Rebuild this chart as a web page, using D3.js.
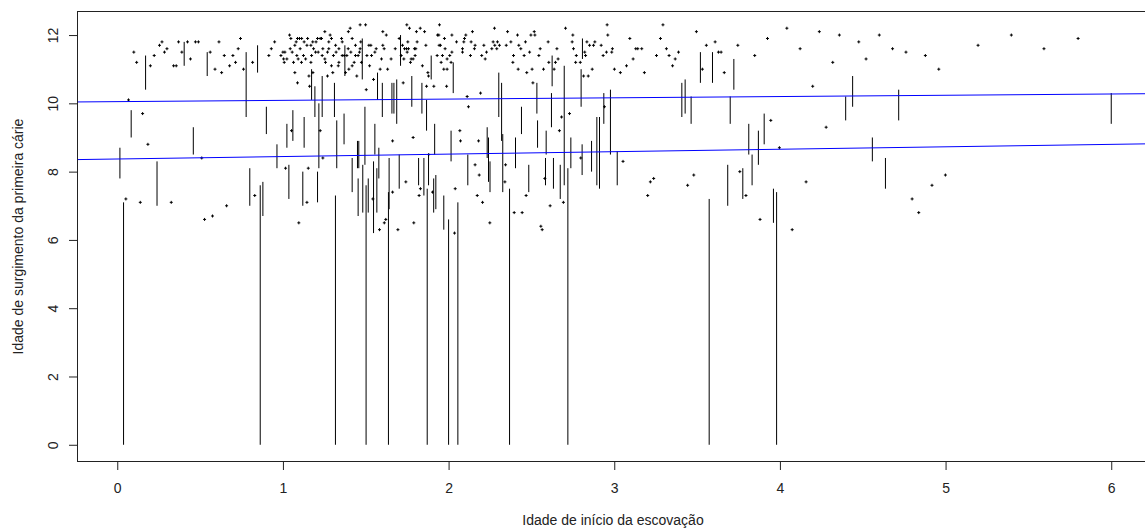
<!DOCTYPE html>
<meta charset="utf-8">
<style>

body { margin: 0; background: #fff; }

.axis text {
  font: 14px "Liberation Sans", Arial, sans-serif;
  fill: #222;
}

.axis line {
  stroke: #222;
}

.title {
  font: 14px "Liberation Sans", Arial, sans-serif;
  fill: #222;
}

</style>
<svg width="1145" height="530"></svg>
<script src="https://d3js.org/d3.v7.min.js"></script>
<script>

// observed points: [idade inicio escovacao, idade primeira carie]
var points = [
  [0.10,11.5],[0.117,11.2],[0.27,11.8],[0.255,11.7],[0.30,11.6],[0.285,11.5],[0.223,11.4],[0.20,11.1],
  [0.37,11.8],[0.39,11.5],[0.424,11.8],[0.472,11.8],[0.49,11.8],[0.442,11.3],[0.34,11.1],[0.356,11.1],
  [0.561,11.5],[0.614,11.8],[0.744,11.9],[0.73,11.6],[0.646,11.4],[0.698,11.4],[0.714,11.2],[0.678,11.1],
  [0.59,11.0],[0.63,10.9],[0.762,11.0],[0.817,11.2],[0.95,11.8],[0.93,11.6],[0.915,11.4],
  [0.068,10.1],[0.153,9.7],[0.185,8.8],[0.51,8.4],[0.052,7.2],[0.139,7.1],[0.326,7.1],[0.66,7.0],
  [0.527,6.6],[0.575,6.7],[0.83,7.3],
  [1.466,12.3],[1.499,12.3],[1.406,12.2],[1.395,12.1],[1.253,12.1],[1.603,12.1],
  [1.624,12.0],[1.04,12.0],[1.285,12.0],
  [1.048,11.9],[1.088,11.9],[1.1,11.9],[1.113,11.9],[1.149,11.9],[1.209,11.9],[1.225,11.9],[1.233,11.9],
  [1.293,11.9],[1.354,11.9],[1.418,11.9],
  [1.08,11.8],[1.128,11.8],[1.18,11.8],[1.2,11.8],[1.277,11.8],[1.358,11.8],[1.47,11.8],
  [1.072,11.7],[1.145,11.7],[1.169,11.7],[1.318,11.7],[1.438,11.7],[1.519,11.7],[1.531,11.7],[1.603,11.7],
  [1.044,11.6],[1.104,11.6],[1.185,11.6],[1.241,11.6],[1.277,11.6],[1.338,11.6],[1.394,11.6],[1.466,11.6],
  [1.563,11.6],[1.611,11.6],
  [1.0,11.5],[1.012,11.5],[1.056,11.5],[1.197,11.5],[1.213,11.5],[1.269,11.5],[1.321,11.5],[1.41,11.5],
  [1.462,11.5],[1.555,11.5],
  [0.988,11.4],[1.084,11.4],[1.124,11.4],[1.173,11.4],[1.237,11.4],[1.305,11.4],[1.358,11.4],[1.37,11.4],
  [1.386,11.4],[1.438,11.4],[1.454,11.4],[1.507,11.4],[1.535,11.4],
  [1.004,11.3],[1.024,11.3],[1.092,11.3],[1.137,11.3],[1.253,11.3],[1.595,11.3],
  [1.008,11.2],[1.064,11.2],[1.112,11.2],[1.169,11.2],[1.257,11.2],[1.338,11.2],[1.43,11.2],[1.474,11.2],
  [1.293,11.1],[1.334,11.1],[1.418,11.1],[1.523,11.1],
  [1.398,11.0],[1.587,11.0],[1.632,11.0],
  [1.072,10.9],[1.181,10.9],[1.301,10.9],[1.378,10.9],
  [1.157,10.8],[1.269,10.8],[1.446,10.8],[1.547,10.7],[1.088,10.6],[1.161,10.5],[1.503,10.4],
  [1.052,9.2],[1.225,9.2],[1.241,8.4],[1.016,8.1],[1.153,8.1],[1.145,7.1],[1.543,7.2],[1.096,6.5],
  [1.612,6.5],[1.583,6.3],
  [1.748,12.3],[1.945,12.3],[1.764,12.2],[1.829,12.2],[2.277,12.2],[1.806,12.1],[1.855,12.1],[2.144,12.1],
  [1.933,12.0],[1.941,12.0],[2.02,12.0],[2.104,12.0],
  [1.702,11.9],[1.975,11.9],[2.096,11.9],
  [1.754,11.8],[1.81,11.8],[2.048,11.8],[2.092,11.8],[2.136,11.8],[2.269,11.8],
  [1.722,11.7],[1.863,11.7],[1.943,11.7],[1.951,11.7],[2.16,11.7],[2.213,11.7],
  [1.678,11.6],[1.734,11.6],[1.746,11.6],[1.758,11.6],[1.794,11.6],[1.802,11.6],[1.979,11.6],[2.084,11.6],
  [2.156,11.6],[2.261,11.6],
  [1.75,11.5],[2.02,11.5],[2.084,11.5],[2.229,11.5],
  [1.714,11.4],[1.798,11.4],[1.931,11.4],[1.963,11.4],[2.007,11.4],[2.132,11.4],[2.2,11.4],
  [1.653,11.3],[1.73,11.3],[1.774,11.3],[1.786,11.3],[1.991,11.3],[2.221,11.3],
  [1.77,11.2],[1.955,11.2],[2.015,11.2],[1.842,11.1],[1.971,11.0],[1.991,11.0],
  [1.875,10.9],[1.879,10.8],[1.726,10.6],[1.867,10.5],[1.911,10.5],[1.988,10.5],
  [2.193,10.3],[2.112,10.2],[2.12,9.9],
  [1.662,8.9],[1.786,9.0],[2.068,9.2],[2.072,8.9],[2.181,8.9],[2.16,8.2],[2.185,7.9],[1.742,7.7],
  [1.662,7.4],[1.83,7.5],[1.822,7.3],[1.903,7.4],[2.04,7.5],[2.173,7.3],[2.205,7.1],[1.621,6.6],
  [1.79,6.5],[1.694,6.3],[2.036,6.2],[2.249,6.5],[1.88,8.5],
  [2.356,12.1],[2.517,12.1],[2.521,12.0],[2.75,12.0],[2.416,12.0],[2.497,12.0],[2.706,12.2],
  [2.295,11.8],[2.376,11.8],[2.464,11.8],[2.601,11.8],[2.746,11.8],[2.835,11.8],[2.883,11.8],
  [2.279,11.7],[2.307,11.7],[2.348,11.7],[2.424,11.7],[2.851,11.7],[2.875,11.7],
  [2.291,11.6],[2.436,11.6],[2.553,11.6],[2.654,11.6],[2.754,11.6],
  [2.489,11.5],[2.822,11.5],
  [2.392,11.4],[2.456,11.4],[2.545,11.4],[2.771,11.4],[2.827,11.4],
  [2.661,11.3],
  [2.388,11.2],[2.605,11.2],[2.645,11.2],[2.767,11.2],[2.795,11.2],
  [2.42,11.0],[2.504,11.0],[2.573,11.0],[2.637,11.0],[2.867,11.0],
  [2.472,10.9],[2.815,10.8],[2.843,10.8],[2.509,10.6],
  [2.682,9.6],[2.73,9.7],[2.669,9.2],[2.798,8.4],[2.344,8.2],[2.34,7.7],[2.581,7.8],[2.468,7.3],
  [2.693,7.1],[2.613,7.0],[2.396,6.8],[2.444,6.8],[2.557,6.4],[2.565,6.3],
  [2.957,12.3],[3.294,12.3],[3.496,12.1],[2.961,12.0],[3.094,11.9],[3.279,11.9],[3.609,11.8],
  [2.921,11.7],[3.556,11.7],[3.746,11.7],
  [2.989,11.6],[3.13,11.6],[3.142,11.6],[3.166,11.6],[3.315,11.6],
  [2.953,11.5],[2.985,11.5],[3.388,11.5],[3.629,11.5],[3.645,11.5],
  [2.933,11.4],[3.255,11.4],[3.331,11.4],[3.114,11.3],[3.368,11.3],[3.074,11.1],[3.352,11.1],
  [3.001,11.0],[3.532,11.0],[3.037,10.9],[3.182,10.9],[3.664,10.9],
  [2.941,9.9],[3.053,8.3],[3.758,8.0],[3.48,7.9],[3.238,7.8],[3.218,7.7],[3.443,7.6],[3.202,7.3],
  [3.848,11.4],[3.795,7.3],
  [4.042,12.2],[3.925,11.9],[4.238,12.1],[4.359,12.0],[4.6,12.0],[4.476,11.8],[4.122,11.6],[4.68,11.6],
  [4.761,11.5],[4.878,11.4],[4.319,11.2],[4.52,11.3],[4.959,11.0],[5.196,11.7],[5.397,12.0],[5.594,11.6],
  [5.8,11.9],[4.198,10.5],[3.945,9.5],[4.279,9.3],[3.997,8.7],[4.158,7.7],[4.999,7.9],[4.918,7.6],
  [4.798,7.2],[4.838,6.8],[4.074,6.3],[3.88,6.6]
];

// interval censored: [idade inicio escovacao, limite inferior, limite superior]
var intervals = [
  [0.171,10.4,11.4],[0.404,11.1,11.8],[0.543,10.8,11.5],[0.778,9.6,11.5],[0.847,10.9,11.7],[0.084,9.0,9.8],
  [0.459,8.5,9.3],[0.016,7.8,8.7],[0.24,7.0,8.3],[0.90,9.1,9.9],[0.964,8.1,8.8],[0.80,7.0,8.1],
  [0.863,0,7.6],[0.879,6.7,7.7],[0.038,0,7.1],
  [1.173,10.1,11.0],[1.193,9.6,10.5],[1.237,9.6,10.8],[1.217,8.1,10.0],[1.311,9.6,10.6],[1.374,10.8,11.7],
  [1.479,10.7,11.9],[1.571,10.1,10.9],[1.6,9.6,10.6],[1.024,8.7,9.4],[1.06,8.9,9.8],[1.128,8.7,9.6],
  [1.325,8.1,9.5],[1.369,8.8,9.7],[1.495,8.2,9.9],[1.458,8.1,8.9],[1.45,8.1,8.9],[1.555,8.5,9.4],
  [1.579,7.8,8.7],[1.036,7.2,8.2],[1.12,7.0,8.0],[1.209,7.1,8.0],[1.418,7.4,8.4],[1.454,6.7,7.8],
  [1.482,6.8,8.2],[1.515,6.8,7.8],[1.547,6.2,8.3],[1.567,6.8,8.1],[1.317,0,7.3],[1.502,0,7.6],
  [1.71,11.1,12.0],[1.895,10.7,11.4],[2.028,10.3,11.2],[1.658,9.7,10.6],[1.67,9.7,10.6],[1.687,9.4,10.7],
  [1.778,9.9,10.8],[1.839,9.7,10.6],[1.867,9.2,10.1],[1.916,8.5,9.4],[2.015,8.3,9.2],[2.233,8.4,9.3],
  [2.241,7.7,9.0],[1.641,6.9,8.4],[1.702,7.5,8.5],[1.819,7.6,8.4],[1.851,7.3,8.4],[1.879,7.6,8.5],
  [1.91,6.8,7.8],[1.923,6.9,7.9],[1.971,6.3,7.3],[2.056,0,7.1],[2.0,0,6.6],[1.871,0,7.5],[1.637,0,7.4],
  [2.116,7.6,8.5],[2.25,7.4,8.3],
  [2.625,10.5,11.4],[2.698,7.6,11.1],[2.8,9.9,11.0],[2.808,11.3,11.9],[2.303,9.6,10.9],[2.32,8.9,10.6],
  [2.533,9.7,10.6],[2.44,9.1,9.9],[2.537,8.7,9.5],[2.621,9.3,10.3],[2.327,7.4,9.1],[2.404,8.1,9.0],
  [2.589,8.5,9.2],[2.738,8.1,9.0],[2.806,7.9,8.8],[2.863,8.0,8.9],[2.895,7.6,9.6],[2.911,7.5,9.6],
  [2.484,7.4,8.2],[2.585,7.6,8.4],[2.633,7.5,8.4],[2.674,7.2,8.2],[2.368,0,7.5],[2.72,0,8.1],
  [3.52,10.6,11.5],[3.593,10.6,11.5],[3.722,10.4,11.3],[3.408,9.6,10.6],[3.428,9.7,10.7],[3.464,9.4,10.2],
  [3.7,9.4,10.2],[2.937,9.4,10.3],[2.977,8.5,10.4],[3.018,7.6,8.6],[3.685,7.0,8.2],[3.776,7.2,8.1],
  [3.573,0,7.2],
  [3.87,8.2,9.2],[3.832,7.6,8.5],[3.812,8.5,9.4],
  [4.439,9.9,10.8],[4.397,9.5,10.2],[4.717,9.5,10.4],[6.0,9.4,10.3],[3.905,8.8,9.7],[4.558,8.3,9.0],
  [4.637,7.5,8.4],[3.961,6.5,7.5],[3.98,0,7.4]
];

// fitted lines (abline): intercept, slope
var fitIntercepts = [10.05, 8.37];
var fitSlopes = [0.0373, 0.0714];

var xTicks = [0, 1, 2, 3, 4, 5, 6];
var yTicks = [0, 2, 4, 6, 8, 10, 12];

var svg = d3.select("svg");

var x = d3.scaleLinear().domain([-0.24, 6.24]).range([77.5, 1151]);
var y = d3.scaleLinear().domain([-0.49, 12.69]).range([461.5, 11.5]);

svg.append("defs").append("clipPath")
    .attr("id", "plotclip")
  .append("rect")
    .attr("x", x.range()[0])
    .attr("y", y.range()[1])
    .attr("width", x.range()[1] - x.range()[0])
    .attr("height", y.range()[0] - y.range()[1]);

var plot = svg.append("g").attr("clip-path", "url(#plotclip)");

// interval segments
plot.append("g")
  .selectAll("line")
  .data(intervals)
  .enter().append("line")
    .attr("x1", function(d) { return x(d[0]); })
    .attr("x2", function(d) { return x(d[0]); })
    .attr("y1", function(d) { return y(d[1]); })
    .attr("y2", function(d) { return y(d[2]); })
    .attr("stroke", "#000")
    .attr("stroke-width", 1);

// points drawn as small plus signs
plot.append("g")
  .selectAll("path")
  .data(points)
  .enter().append("path")
    .attr("transform", function(d) { return "translate(" + x(d[0]) + "," + y(d[1]) + ")"; })
    .attr("d", "M-1.5,0H1.5M0,-1.5V1.5")
    .attr("stroke", "#000")
    .attr("stroke-width", 1);

// fitted lines
var xd = x.domain();
plot.append("g")
  .selectAll("line")
  .data(fitIntercepts)
  .enter().append("line")
    .attr("x1", x(xd[0]))
    .attr("x2", x(xd[1]))
    .attr("y1", function(d, i) { return y(d + fitSlopes[i] * xd[0]); })
    .attr("y2", function(d, i) { return y(d + fitSlopes[i] * xd[1]); })
    .attr("stroke", "#0000ff")
    .attr("stroke-width", 1);

// box
svg.append("rect")
    .attr("x", x.range()[0])
    .attr("y", y.range()[1])
    .attr("width", x.range()[1] - x.range()[0])
    .attr("height", y.range()[0] - y.range()[1])
    .attr("fill", "none")
    .attr("stroke", "#222")
    .attr("stroke-width", 1);

// x axis
var xAxis = svg.append("g")
    .attr("class", "axis")
    .attr("transform", "translate(0," + y.range()[0] + ")")
    .call(d3.axisBottom(x).tickValues(xTicks).tickSize(8.5).tickFormat(d3.format("d")));
xAxis.select(".domain").remove();
xAxis.selectAll("text").attr("y", 31).attr("dy", 0);

// y axis, labels rotated like base R
var yAxis = svg.append("g")
    .attr("class", "axis")
    .attr("transform", "translate(" + x.range()[0] + ",0)")
    .call(d3.axisLeft(y).tickValues(yTicks).tickSize(8.5).tickFormat(d3.format("d")));
yAxis.select(".domain").remove();
yAxis.selectAll("text")
    .attr("x", 0)
    .attr("dy", "0.35em")
    .attr("text-anchor", "middle")
    .attr("transform", "translate(-24.5,0) rotate(-90)");

// axis titles
svg.append("text")
    .attr("class", "title")
    .attr("x", 613)
    .attr("y", 525)
    .attr("text-anchor", "middle")
    .text("Idade de início da escovação");

svg.append("text")
    .attr("class", "title")
    .attr("text-anchor", "middle")
    .attr("dy", "0.35em")
    .attr("transform", "translate(18," + ((y.range()[0] + y.range()[1]) / 2) + ") rotate(-90)")
    .text("Idade de surgimento da primeira cárie");

</script>
